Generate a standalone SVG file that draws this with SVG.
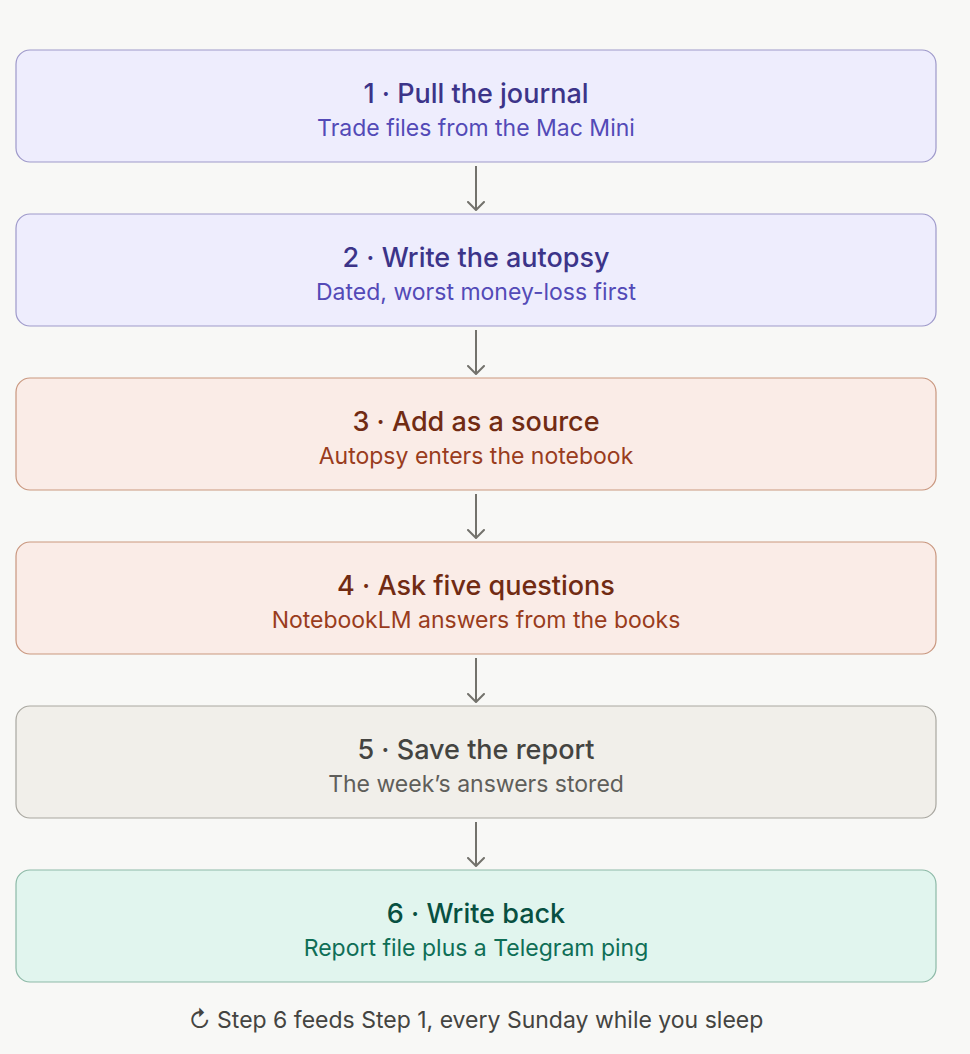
<svg xmlns="http://www.w3.org/2000/svg" width="970" height="1054" viewBox="0 0 970 1054">
<defs>
<marker id="ah" viewBox="0 0 10 18" refX="9" refY="9" markerWidth="10" markerHeight="18" markerUnits="userSpaceOnUse" orient="auto">
<path d="M1 1 L9 9 L1 17" fill="none" stroke="#73726C" stroke-width="2" stroke-linecap="round" stroke-linejoin="round"/>
</marker>
<style>
.t{font-family:Inter,"Noto Sans",sans-serif;font-size:27px;font-weight:500;text-anchor:middle;dominant-baseline:central}
.s{font-family:Inter,"Noto Sans",sans-serif;font-size:23px;font-weight:400;text-anchor:middle;dominant-baseline:central}
.box{stroke-width:1.2}
.purple rect{fill:#EEEDFD;stroke:#9E99CA}
.purple .t{fill:#3C3489}.purple .s{fill:#534AB7}
.coral rect{fill:#FAECE7;stroke:#C9977F}
.coral .t{fill:#712B13}.coral .s{fill:#993C1D}
.gray rect{fill:#F1EFEA;stroke:#A9A7A0}
.gray .t{fill:#444441}.gray .s{fill:#5F5E5A}
.green rect{fill:#E1F5EE;stroke:#8DB9A7}
.green .t{fill:#085041}.green .s{fill:#0F6E56}
.conn line{stroke:#73726C;stroke-width:2;fill:none}
</style>
</defs>
<rect width="970" height="1054" fill="#F8F8F6"/>
<g id="node1" class="purple"><rect class="box" x="16" y="50" width="920" height="112" rx="14"/><text class="t" x="476" y="93">1 · Pull the journal</text><text class="s" x="476" y="128">Trade files from the Mac Mini</text></g>
<g id="node2" class="purple"><rect class="box" x="16" y="214" width="920" height="112" rx="14"/><text class="t" x="476" y="257">2 · Write the autopsy</text><text class="s" x="476" y="292">Dated, worst money-loss first</text></g>
<g id="node3" class="coral"><rect class="box" x="16" y="378" width="920" height="112" rx="14"/><text class="t" x="476" y="421">3 · Add as a source</text><text class="s" x="476" y="456">Autopsy enters the notebook</text></g>
<g id="node4" class="coral"><rect class="box" x="16" y="542" width="920" height="112" rx="14"/><text class="t" x="476" y="585">4 · Ask five questions</text><text class="s" x="476" y="620">NotebookLM answers from the books</text></g>
<g id="node5" class="gray"><rect class="box" x="16" y="706" width="920" height="112" rx="14"/><text class="t" x="476" y="749">5 · Save the report</text><text class="s" x="476" y="784">The week’s answers stored</text></g>
<g id="node6" class="green"><rect class="box" x="16" y="870" width="920" height="112" rx="14"/><text class="t" x="476" y="913">6 · Write back</text><text class="s" x="476" y="948">Report file plus a Telegram ping</text></g>
<g id="connectors" class="conn">
<line x1="476" y1="166" x2="476" y2="210" marker-end="url(#ah)"/>
<line x1="476" y1="330" x2="476" y2="374" marker-end="url(#ah)"/>
<line x1="476" y1="494" x2="476" y2="538" marker-end="url(#ah)"/>
<line x1="476" y1="658" x2="476" y2="702" marker-end="url(#ah)"/>
<line x1="476" y1="822" x2="476" y2="866" marker-end="url(#ah)"/>
</g>
<text class="s" x="476" y="1020" fill="#444441">↻ Step 6 feeds Step 1, every Sunday while you sleep</text>
</svg>
